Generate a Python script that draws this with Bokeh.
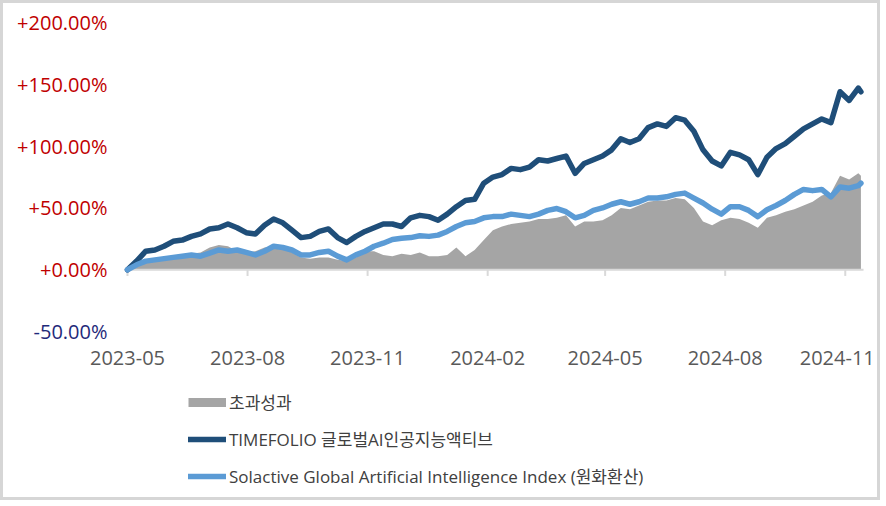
import pandas as pd
from bokeh.plotting import figure
from bokeh.models import Range1d, Legend, LegendItem, ColumnDataSource
from bokeh.core.properties import value
from bokeh.embed import file_html
from bokeh.resources import INLINE

# ---------------- data ----------------
dates = [
    "2023-05-16", "2023-05-23", "2023-05-30", "2023-06-06", "2023-06-13", "2023-06-20", "2023-06-27",
    "2023-07-04", "2023-07-11", "2023-07-18", "2023-07-25", "2023-08-01", "2023-08-08", "2023-08-15",
    "2023-08-22", "2023-08-29", "2023-09-05", "2023-09-12", "2023-09-19", "2023-09-26", "2023-10-03",
    "2023-10-10", "2023-10-17", "2023-10-24", "2023-10-31", "2023-11-07", "2023-11-14", "2023-11-21",
    "2023-11-28", "2023-12-05", "2023-12-12", "2023-12-19", "2023-12-26", "2024-01-02", "2024-01-09",
    "2024-01-16", "2024-01-23", "2024-01-30", "2024-02-06", "2024-02-13", "2024-02-20", "2024-02-27",
    "2024-03-05", "2024-03-12", "2024-03-19", "2024-03-26", "2024-04-02", "2024-04-09", "2024-04-16",
    "2024-04-23", "2024-04-30", "2024-05-07", "2024-05-14", "2024-05-21", "2024-05-28", "2024-06-04",
    "2024-06-11", "2024-06-18", "2024-06-25", "2024-07-02", "2024-07-09", "2024-07-16", "2024-07-23",
    "2024-07-30", "2024-08-06", "2024-08-13", "2024-08-20", "2024-08-27", "2024-09-03", "2024-09-10",
    "2024-09-17", "2024-09-24", "2024-10-01", "2024-10-08", "2024-10-15", "2024-10-22", "2024-10-29",
    "2024-11-05", "2024-11-12", "2024-11-19", "2024-11-26", "2024-11-28",
]
timefolio = [
    0, 7, 15, 16, 19, 23, 24, 27, 29, 33,
    34, 37, 34, 30, 29, 36, 41, 38, 32, 26,
    27, 31, 33, 26, 22, 27, 31, 34, 37, 37,
    35, 42, 44, 43, 40, 45, 51, 56, 57, 70,
    75, 77, 82, 81, 83, 89, 88, 90, 92, 78,
    86, 89, 92, 97, 106, 103, 106, 115, 118, 116,
    123, 121, 112, 97, 88, 84, 95, 93, 89, 77,
    91, 98, 102, 108, 114, 118, 122, 119, 144, 137,
    147, 144,
]
solactive = [
    0, 4, 7, 8, 9, 10, 11, 12, 11, 13.5,
    16, 15, 16, 14, 12, 15, 19, 18, 16, 12,
    12, 14, 15, 11, 8, 12, 15, 19, 21.5, 24.5,
    25.5, 26, 27.5, 27, 28, 31, 35, 38, 39, 42,
    43, 43, 45, 44, 43, 45, 48, 49.5, 47, 42,
    44, 48, 50, 53, 55, 53, 55, 58, 58, 59,
    61, 62, 58, 54, 49, 45, 51, 51, 48, 43,
    48.5, 52, 56, 61, 65, 64, 65, 59, 67, 66,
    68, 70,
]
excess = [
    0, 2, 6, 7, 9, 11, 12, 13, 14, 18,
    20, 19, 15, 14, 15, 18, 19, 18, 14, 10,
    9, 10, 10, 8, 7, 10, 15, 15, 12, 11,
    13, 12, 14, 11, 11, 12, 18, 11, 16, 24,
    32, 35, 37, 38, 39, 41, 41, 42, 44, 35,
    39, 39, 40, 44, 50, 49, 52, 55, 56, 56,
    58, 57, 50, 39, 36, 40, 42, 41, 38, 34,
    42, 44, 47, 49, 52, 55, 60, 62, 76, 73,
    78, 76,
]
series_names = ["초과성과", "TIMEFOLIO 글로벌AI인공지능액티브",
                "Solactive Global Artificial Intelligence Index (원화환산)"]
xtick_dates = ["2023-05-16", "2023-08-16", "2023-11-16", "2024-02-16",
               "2024-05-16", "2024-08-16", "2024-11-16"]
xtick_labels = ["2023-05", "2023-08", "2023-11", "2024-02", "2024-05", "2024-08", "2024-11"]
ytick_values = [200, 150, 100, 50, 0, -50]
ytick_labels = ["+200.00%", "+150.00%", "+100.00%", "+50.00%", "+0.00%", "-50.00%"]
axis_start, axis_end = "2023-05-16", "2024-11-30"
y_min = -50

# ---------------- styles / layout ----------------
FONT = "Open Sans, Noto Sans CJK KR"
C_EXCESS = "#A5A5A5"
C_TF = "#1F4E79"
C_SOL = "#5B9BD5"
C_POS = "#C00000"
C_NEG = "#1F2A7A"
C_AXIS = "#D9D9D9"

# the frame fills the canvas; ranges padded so the plot area sits where the
# reference has it (axis labels and legend live in the padded margins)
x_lo = pd.Timestamp(axis_start) - pd.Timedelta(days=95)
x_hi = pd.Timestamp(axis_end) + pd.Timedelta(days=15.3)
y_lo, y_hi = -189.1, 215.4

src = ColumnDataSource(dict(
    x=pd.to_datetime(dates), tf=timefolio, sol=solactive, ex=excess,
    zero=[0] * len(dates)))

p = figure(width=880, height=500, output_backend="svg", toolbar_location=None,
           x_axis_type=None, y_axis_type=None,
           x_range=Range1d(x_lo, x_hi), y_range=Range1d(y_lo, y_hi),
           min_border=0)
p.styles = {"border": "3px solid #D6D6D6"}
p.outline_line_color = None
p.background_fill_color = "white"
p.border_fill_color = "white"
p.grid.visible = False

# excess area
p.varea(x="x", y1="zero", y2="ex", source=src, fill_color=C_EXCESS)

# zero axis line + tick marks (category axis crossing at 0)
p.segment(x0=[pd.Timestamp(axis_start)], y0=[0], x1=[pd.Timestamp(axis_end)], y1=[0],
          line_color=C_AXIS, line_width=2)
tick_x = pd.to_datetime(xtick_dates)
p.segment(x0=tick_x, y0=[0] * len(tick_x), x1=tick_x, y1=[-5] * len(tick_x),
          line_color=C_AXIS, line_width=2)

tf_r = p.line(x="x", y="tf", source=src, line_color=C_TF, line_width=5.5,
              line_join="round", line_cap="round")
sol_r = p.line(x="x", y="sol", source=src, line_color=C_SOL, line_width=5.5,
               line_join="round", line_cap="round")
# legend swatch for the area series (a thick butt-capped line, no visible data)
dummy = p.line(x=[pd.Timestamp(axis_start)], y=[float("nan")],
               line_color=C_EXCESS, line_width=9, line_cap="butt")

# x tick labels, under the bottom of the plot area (last one kept inside)
x_offsets = [0, 0, 0, 0, 0, 0, -8]
p.text(x=tick_x, y=[y_min] * len(tick_x), text=xtick_labels, y_offset=26,
       x_offset=x_offsets,
       text_align="center", text_baseline="middle",
       text_font=value(FONT), text_font_size="20px", text_color="#595959")

# y tick labels, coloured by sign
ycolors = [C_POS if v >= 0 else C_NEG for v in ytick_values]
p.text(x=[pd.Timestamp(axis_start)] * len(ytick_values), y=ytick_values,
       text=ytick_labels, x_offset=-20, text_color=ycolors,
       text_align="right", text_baseline="middle",
       text_font=value(FONT), text_font_size="20px")

legend = Legend(items=[LegendItem(label=series_names[0], renderers=[dummy]),
                       LegendItem(label=series_names[1], renderers=[tf_r]),
                       LegendItem(label=series_names[2], renderers=[sol_r])],
                location=(185, 15), orientation="vertical",
                padding=0, margin=0, spacing=12,
                glyph_width=38, glyph_height=22, label_height=22,
                label_standoff=3, label_text_font=FONT,
                label_text_font_size="17px", label_text_color="#404040",
                border_line_alpha=0, background_fill_alpha=0)
p.add_layout(legend)

open("out.html", "w").write(file_html(p, INLINE))
